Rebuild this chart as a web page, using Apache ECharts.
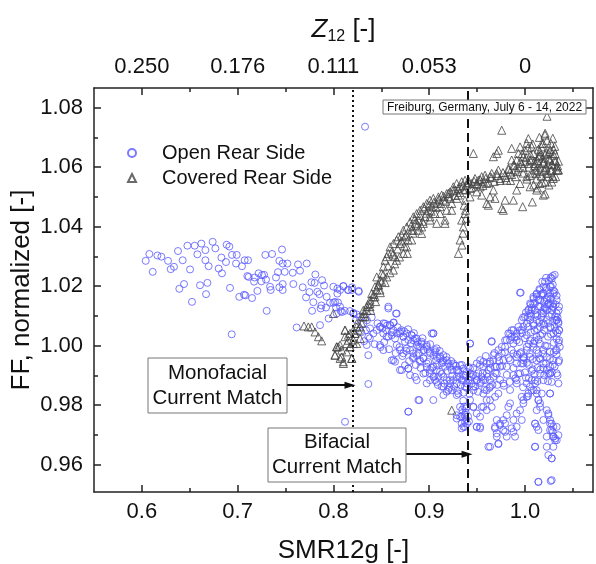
<!DOCTYPE html>
<html><head><meta charset="utf-8">
<script src="https://cdn.jsdelivr.net/npm/echarts@6/dist/echarts.min.js"></script>
<style>html,body{margin:0;padding:0;background:#fff}#c{width:596px;height:564px}</style>
</head><body><div id="c"></div>
<script>
const FONT = "'Liberation Sans', Arial, sans-serif";
const xTickValues = [0.6, 0.7, 0.8, 0.9, 1.0];
const xMinorTicks = [0.65, 0.75, 0.85, 0.95, 1.05];
const topTickLabels = ['0.250', '0.176', '0.111', '0.053', '0'];
const yTickValues = [0.96, 0.98, 1.00, 1.02, 1.04, 1.06, 1.08];
const yMinorTicks = [0.97, 0.99, 1.01, 1.03, 1.05, 1.07];
const monofacialMatchX = 0.825;
const bifacialMatchX = 0.94;
const monoArrow = [[0.7515, 0.9867], [0.8173, 0.9867]];
const biArrow = [[0.8758, 0.9635], [0.9395, 0.9635]];

const openRear = [
[0.604,1.0285],[0.6078,1.0308],[0.6113,1.0248],[0.6162,1.0303],[0.6203,1.0299],[0.6273,1.0285],[0.6301,1.0257],[0.6335,1.0265],[0.6377,1.0318],[0.6391,1.0191],[0.6426,1.0287],[0.644,1.0207],[0.6475,1.0336],[0.6503,1.0256],[0.6523,1.0147],[0.6551,1.0336],[0.6579,1.0307],[0.6607,1.0203],[0.6621,1.0343],[0.6663,1.0321],[0.667,1.0173],[0.6684,1.0211],[0.6697,1.0267],[0.6663,1.0287],[0.6739,1.0349],[0.6767,1.0327],[0.6802,1.0259],[0.683,1.0296],[0.6836,1.0243],[0.6885,1.0339],[0.6913,1.0333],[0.6878,1.0281],[0.692,1.0194],[0.6941,1.0305],[0.699,1.0305],[0.6983,1.0276],[0.7017,1.0164],[0.7045,1.0267],[0.7073,1.0287],[0.7066,1.0171],[0.7108,1.0287],[0.708,1.0169],[0.7101,1.0234],[0.7115,1.0231],[0.715,1.016],[0.7171,1.0215],[0.7178,1.0229],[0.7219,1.0243],[0.7206,1.0184],[0.7247,1.0216],[0.7254,1.0237],[0.7275,1.0238],[0.7289,1.0305],[0.7296,1.0222],[0.7303,1.0117],[0.7338,1.0198],[0.7359,1.0308],[0.7345,1.0187],[0.74,1.0229],[0.7435,1.0196],[0.7421,1.0247],[0.7463,1.0323],[0.7435,1.0285],[0.747,1.0276],[0.747,1.0207],[0.7491,1.0248],[0.747,1.0187],[0.7519,1.0276],[0.7575,1.0245],[0.7581,1.0207],[0.763,1.0273],[0.7651,1.0252],[0.7679,1.0196],[0.7721,1.0276],[0.7714,1.0162],[0.7749,1.018],[0.7777,1.0117],[0.777,1.0213],[0.7804,1.0211],[0.7811,1.0239],[0.7832,1.0181],[0.779,1.0146],[0.7853,1.0173],[0.7874,1.0135],[0.7881,1.022],[0.7902,1.0202],[0.7867,1.0125],[0.7923,1.0128],[0.7929,1.0164],[0.795,1.0091],[0.7964,1.0144],[0.7999,1.0144],[0.8027,1.0128],[0.8041,1.0192],[0.8048,1.0145],[0.8069,1.0187],[0.8076,1.0116],[0.8104,1.02],[0.8118,1.0117],[0.8152,1.0187],[0.8173,1.0116],[0.8194,1.0187],[0.8208,1.011],[0.8243,1.0105],[0.8264,1.0184],[0.7616,1.0061],[0.786,1.0069],[0.6938,1.0038],
[0.7999,1.0198],[0.8041,1.0175],[0.8103,1.02],[0.8156,1.0187],[0.8194,1.0196],[0.8264,1.0181],[0.8016,1.0147],[0.8069,1.0131],[0.8034,1.0108],[0.809,1.0113],[0.8208,1.0108],[0.8236,1.0086],[0.8278,1.0097],[0.8312,1.0075],[0.834,1.0052],[0.8364,1.003],[0.8382,1.0058],[0.8417,1.0041],[0.8452,1.0052],[0.8486,1.0063],[0.8521,1.0075],[0.8549,1.0052],[0.8573,1.003],[0.8591,1.0069],[0.8626,1.0052],[0.8643,1.0024],[0.866,1.0002],[0.8695,1.0041],[0.873,1.003],[0.8747,1.0013],[0.8782,1.0019],[0.8817,1.0035],[0.8852,1.0024],[0.8869,1.0002],[0.8904,0.9996],[0.8921,1.0013],[0.8939,0.9985],[0.8974,1.0002],[0.9008,0.9979],[0.9043,0.9968],[0.9071,0.9951],[0.9078,0.9991],[0.9113,0.9963],[0.9148,0.9951],[0.9165,0.9929],[0.92,0.994],[0.9235,0.9918],[0.9252,0.994],[0.9287,0.9895],[0.9304,0.9918],[0.9339,0.9884],[0.9357,0.9901],[0.9374,0.9862],[0.9409,0.9884],[0.9426,0.9907],[0.9444,0.9873],[0.9461,0.985],[0.9496,0.9884],[0.9513,0.9907],[0.9548,0.9895],[0.9565,0.9929],[0.9583,0.9884],[0.9618,0.9918],[0.9635,0.994],[0.967,0.9951],[0.9705,0.9929],[0.9722,0.9962],[0.9757,0.9974],[0.9792,0.9996],[0.9809,1.0019],[0.9844,1.0041],[0.9861,1.0052],[0.9879,1.0007],[0.9913,1.003],[0.9931,1.0063],[0.9966,1.0086],[1.0,1.0097],[1.0035,1.0119],[1.0053,1.0142],[1.0087,1.0164],[1.0122,1.0175],[1.0157,1.0187],[1.0192,1.0198],[1.0227,1.0153],[1.0262,1.0175],[1.0296,1.0131],[1.0331,1.0086],[1.0356,1.0052],[0.866,1.0108],[0.8573,1.0125],[0.8347,1.0002],[0.8364,0.9968],[0.8486,1.0002],[0.8521,0.9985],[0.8608,0.9951],[0.8695,0.9918],[0.8782,0.9923],[0.8887,0.9817],[0.8782,0.9778],[0.9043,1.0041],[0.9426,1.0007],[0.9652,1.0015],[0.9948,1.0178],[0.8364,0.9871],[0.8121,0.9744],
[0.8834,0.9962],[0.8904,0.9946],[0.8974,0.9929],[0.9008,0.9907],[0.9061,0.9884],[0.9096,0.9895],[0.913,0.9862],[0.9148,0.9834],[0.92,0.9851],[0.9322,0.9794],[0.9339,0.9761],[0.9357,0.9727],[0.9374,0.9744],[0.9287,0.9766],[0.9496,0.9727],[0.9531,0.9727],[0.9426,0.9817],[0.9461,0.9794],[0.9548,0.9794],[0.96,0.9817],[0.9652,0.9794],[0.9635,0.966],[0.9687,0.9722],[0.9705,0.9705],[0.9739,0.9738],[0.9774,0.975],[0.9792,0.971],[0.9809,0.9694],[0.9861,0.9722],[0.9879,0.975],[0.9913,0.9772],[0.9966,0.975],[0.9983,0.9806],[1.0018,0.9828],[1.0053,0.9862],[1.007,0.9884],[1.0105,0.9873],[1.0122,0.9839],[1.014,0.9817],[1.0157,0.9794],[1.0105,0.9738],[1.0105,0.966],[1.0192,0.975],[1.0227,0.9694],[1.0244,0.9772],[1.0262,0.9738],[1.0279,0.9716],[1.0296,0.9694],[1.0314,0.9682],[1.0331,0.9727],[1.0262,0.9839],[1.0244,0.9632],[1.0279,0.9621],[1.0296,0.966],[1.014,0.9542],[1.0279,0.9548],[1.0349,0.9873],[1.0331,0.9907],[1.0356,0.9951],[1.0363,0.9996],[1.0262,0.9907],[1.0192,0.994],[1.014,0.9974],[1.0087,1.0007],[1.0053,0.9962],[1.0018,0.9996],[0.9983,0.994],[0.9948,0.9907],[0.9913,0.9884],[0.9844,0.9851],[0.9774,0.9873],[0.9722,0.9839],[0.9635,0.9862],[0.96,0.985],[0.9565,0.9839],[0.9287,0.9834],[0.9217,0.9884],
[0.8486,1.0063],[0.8539,1.0074],[0.8591,1.0069],[0.8626,1.0077],[0.8653,1.0108],[0.8573,1.0131],[0.8521,1.0041],[0.8556,1.003],[0.8608,1.0035],[0.866,1.0041],[0.8695,1.0047],[0.873,1.003],[0.8765,1.0041],[0.8817,1.0035],[0.8834,1.0018],[0.8869,1.0024],[0.8886,0.9996],[0.8921,1.0007],[0.8939,0.9985],[0.8974,0.9996],[0.9008,0.9974],[0.9043,1.0041],[0.9061,0.9985],[0.9078,0.9962],[0.9113,0.9957],[0.913,0.994],[0.9148,0.9968],[0.9182,0.9951],[0.9217,0.9929],[0.9252,0.9934],[0.9287,0.9918],[0.9322,0.9934],[0.9357,0.9923],[0.9391,0.9912],[0.9426,0.9923],[0.9461,0.9901],[0.9496,0.994],[0.9531,0.9951],[0.9565,0.9946],[0.96,0.994],[0.9635,0.9946],[0.967,0.9968],[0.9687,0.9929],[0.9722,0.9985],[0.9757,0.9996],[0.9792,1.0018],[0.9826,1.0041],[0.9861,1.003],[0.9879,1.0052],[0.9913,1.0018],[0.9948,1.0052],[0.9983,1.0063],[1.0018,1.0074],[1.0053,1.0086],[1.007,1.0119],[1.0105,1.0142],[1.0157,1.0131],[1.0192,1.0108],[1.0227,1.0119],[1.0262,1.0136],[1.0296,1.0142],[1.0314,1.0086],[1.0331,1.0108],[1.0349,1.008],[1.0356,1.0052],[1.0356,1.0018],[1.0331,0.9985],[1.0296,0.9951],[1.0262,0.9929],[1.0227,0.9962],[1.0192,0.9985],[1.0157,1.0007],[1.0122,1.003],[1.0088,0.9996],[1.0053,1.0018],[1.0018,0.9985],[0.9983,0.9962],[0.9948,0.9974],[0.9913,0.994],[0.9879,0.9974],[0.9844,0.9951],[0.9809,0.9929],[0.9774,0.9951],[0.9739,0.9929],[0.9705,0.9906],[0.967,0.9895],[0.9635,0.9884],[0.96,0.9906],[0.9565,0.9884],[0.9531,0.9873],[0.9496,0.9884],[0.9461,0.9862],[0.9426,0.9884],[0.9391,0.9873],[0.9357,0.9884],[0.9322,0.9895],[0.9287,0.9873],[0.9252,0.9884],[0.9217,0.9873],[0.9182,0.9884],[0.9148,0.9895],[0.9113,0.9912],[0.9078,0.9918],[0.9043,0.9929],[0.9008,0.9918],[0.8974,0.994],[0.8939,0.9957],[0.8904,0.9951],[0.8869,0.9968],[0.8834,0.9974],[0.88,0.9985],[0.8765,0.999],[0.873,0.9974],[0.8695,0.9985],[0.8713,0.9918],[0.8747,0.9934],[0.8782,0.9923],[0.88,0.9901],[0.8852,0.9895],[0.8869,0.9884],[0.8939,0.9906],[0.8974,0.9873],[0.9008,0.9884],[0.9043,0.9895],[0.9078,0.9878],[0.9148,0.9862],[0.9182,0.9845],[0.9235,0.985],[0.9304,0.9839],[0.8897,0.9817],[0.9043,0.9817],[0.8782,0.9778],[0.9426,1.0007],[0.9652,1.0013],[0.9026,1.0041],[0.8626,0.9951],[0.8643,0.9946],
[0.9287,0.9755],[0.9322,0.9761],[0.9339,0.9738],[0.9339,0.9722],[0.9374,0.9727],[0.9374,0.9761],[0.9384,0.9789],[0.9461,0.9794],[0.9496,0.9772],[0.9531,0.9761],[0.9496,0.9727],[0.9531,0.9722],[0.9565,0.9794],[0.96,0.9783],[0.9635,0.9817],[0.9687,0.9828],[0.9705,0.975],[0.9687,0.9727],[0.9705,0.9694],[0.9722,0.9671],[0.9739,0.9733],[0.9774,0.9716],[0.9792,0.9738],[0.9809,0.9766],[0.9826,0.9794],[0.9844,0.9806],[0.9879,0.971],[0.9896,0.9694],[0.9913,0.9727],[0.9948,0.9783],[0.9966,0.9828],[0.9983,0.9817],[1.0018,0.9873],[1.0035,0.9839],[1.007,0.985],[1.0105,0.9884],[1.0122,0.985],[1.014,0.9817],[1.0122,0.9783],[1.0105,0.9738],[1.0122,0.9727],[1.014,0.9716],[1.0157,0.9806],[1.0175,0.9839],[1.0192,0.9884],[1.0227,0.9783],[1.0244,0.9766],[1.0262,0.975],[1.0279,0.9738],[1.0262,0.9716],[1.029,0.971],[1.0296,0.9694],[1.0314,0.9688],[1.0331,0.9682],[1.0349,0.9699],[1.0296,0.9727],[1.0262,0.9839],[1.0279,0.9878],[1.0227,0.966],[1.0279,0.9621],[1.0105,0.966],[1.014,0.9542],[1.0268,0.9545],[0.9618,0.966],[0.9722,0.9669],[0.9879,0.9901],[0.9913,0.9873],[1.0157,0.9906],[1.0244,0.9906],[0.9983,0.9951],
[1.0289,1.0234],[1.0268,1.0229],[1.0209,1.0215],[0.9955,1.0178],[1.0087,1.0142],[1.0122,1.0164],[1.0157,1.0153],[1.0192,1.0175],[1.0227,1.0187],[1.0262,1.0198],[1.0296,1.0175],[1.0331,1.0153],[1.0356,1.0131],[1.0053,1.0108],[1.0105,1.0119],[1.014,1.0131],[1.0175,1.0108],[1.0209,1.0131],[1.0244,1.0142],[1.0279,1.0119],[1.0314,1.0097],[1.0349,1.0075],[1.0035,1.0063],[1.0087,1.0075],[1.0122,1.0086],[1.0157,1.0063],[1.0192,1.0075],[1.0227,1.0086],[1.0262,1.0063],[1.0296,1.0041],[1.0331,1.0086],[0.9913,1.0041],[0.9966,1.0052],[1.0018,1.0035],[0.9844,1.0018],
[1.01,1.005],[1.014,1.002],[1.018,1.004],[1.021,1.0],[1.024,1.003],[1.027,1.006],[1.03,1.001],[1.033,0.997],[1.012,0.995],[1.016,0.992],[1.02,0.99],[1.024,0.988],[1.028,0.991],[1.031,0.993],[1.034,0.99],[1.008,0.992],[1.004,0.989],[1.0,0.991],[0.996,0.994],[0.992,0.997],[1.006,1.01],[1.013,1.01],[1.019,1.012],[1.025,1.01],[1.029,1.013],[1.017,1.017],[1.023,1.016],[1.027,1.02],[1.031,1.018],[1.015,1.008],[1.02,1.007],[1.026,0.998],[1.032,1.005],[1.035,1.001],[1.022,0.994],[1.013,0.988],[1.009,0.985],[1.003,0.983],[0.998,0.986],[0.99,0.989],
[0.833,1.0736],
[0.829,1.0045],[0.832,1.0015],[0.835,1.0085],[0.838,1.0025],[0.84,1.0095],[0.843,1.0005],[0.846,1.0075],[0.849,0.9995],[0.851,1.0058],[0.853,1.0012],[0.856,1.0068],[0.858,0.9988],[0.861,1.0045],[0.863,1.0078],[0.865,0.9975],
[0.867,1.0062],[0.869,0.9995],[0.871,1.0052],[0.872,0.9965],[0.874,1.0048],[0.876,0.9982],[0.878,1.0055],[0.879,0.9948],[0.881,1.0008],[0.883,0.9958],[0.884,1.0042],[0.886,0.9935],[0.888,1.0012],[0.889,0.9975],[0.891,0.9925],[0.893,1.0025],[0.894,0.9958],[0.896,0.9908],[0.898,0.9988],[0.899,0.9945],
[0.901,1.0005],[0.903,0.9925],[0.905,0.9895],[0.906,0.9978],[0.908,0.9935],[0.909,0.9868],[0.911,0.9982],[0.913,0.9905],[0.914,0.9945],[0.916,0.9872],[0.918,0.9962],[0.919,0.9915],[0.921,0.9858],[0.923,0.9948],[0.924,0.9898],[0.926,0.9862],[0.928,0.9932],[0.929,0.9848],[0.931,0.9908],[0.933,0.9868],[0.934,0.9935],[0.936,0.9842],[0.938,0.9898],[0.939,0.9858],[0.941,0.9928],[0.942,0.9838],[0.944,0.9895],
[0.9355,0.9815],[0.9365,0.9795],[0.938,0.9775],[0.9385,0.9752],[0.9395,0.9738],[0.9345,0.9785],[0.9372,0.9768],[0.9392,0.9795],[0.9405,0.9762],[0.9415,0.9745],
[0.946,0.9925],[0.948,0.9862],[0.949,0.9898],[0.951,0.9845],[0.953,0.9935],[0.954,0.9878],[0.956,0.9908],[0.958,0.9852],[0.959,0.9965],[0.961,0.9895],[0.963,0.9858],[0.964,0.9925],[0.966,0.9868],[0.968,0.9975],[0.969,0.9908],[0.971,0.9868],[0.973,0.9948],[0.974,0.9885],[0.976,0.9932],[0.978,0.9865],[0.979,0.9978],[0.981,0.9902],[0.983,0.9958],[0.984,0.9878],
[0.986,0.9985],[0.988,0.9925],[0.989,1.0028],[0.991,0.9962],[0.993,0.9905],[0.994,1.0012],[0.996,0.9978],[0.997,1.0042],[0.999,0.9958],[1.0,1.0025],[1.002,0.9942],[1.003,1.0095],[1.004,1.0005],[1.005,0.9972],[1.006,1.0045],[1.007,1.0128],[1.008,0.9955],[1.009,1.0068],[1.01,1.0015],[1.011,1.0105],[1.012,0.9985],[1.013,1.0055],[1.014,1.0155],[1.015,0.9958],[1.016,1.0035],[1.017,1.0095],[1.018,1.0175],[1.019,0.9972],[1.02,1.0052],[1.021,1.0125],[1.022,1.0195],[1.023,0.9998],[1.024,1.0075],[1.025,1.0165],[1.026,0.9955],[1.027,1.0038],[1.028,1.0105],[1.029,1.0205],[1.03,0.9978],[1.031,1.0062],[1.032,1.0138],[1.033,1.0022],[1.034,1.0095],[1.035,0.9945],[1.028,1.0225],[1.025,1.0218],[1.031,1.0238],[1.022,1.0228],[1.018,1.0215],[1.015,1.019],[1.012,1.0172],[1.009,1.0158],[1.006,1.0138],[1.004,1.0122],[1.001,1.0112],[0.998,1.0095],[1.02,1.0148],[1.024,1.0138],[1.027,1.0158],[1.03,1.0185],[1.033,1.0168],[1.035,1.0118],[1.034,1.0042],[1.032,0.9985],[1.029,0.9935],[1.026,0.9905],[1.023,0.9918],[1.019,0.9925],[1.016,0.9955],[1.013,0.9925],[1.01,0.9905],[1.007,0.9915],[1.004,0.9935],[1.001,0.9892]
];

const coveredRear = [
[0.7693,1.0066],[0.7738,1.0063],[0.7773,1.0063],[0.7808,1.0046],[0.7843,1.003],[0.7877,1.0016],[0.7999,1.0108],[0.8034,0.9996],[0.8069,1.0002],[0.8017,0.9968],[0.8087,0.9962],[0.8104,0.994],[0.8138,0.9979],[0.8191,0.9957],[0.8173,0.9996],[0.8208,1.0007],[0.8225,1.0041],[0.8243,1.0063],[0.8121,1.003],[0.8156,1.0018],
[0.8016,0.9968],[0.8051,0.9996],[0.8086,0.9985],[0.8103,0.9946],[0.8138,1.0007],[0.8173,0.9996],[0.8208,1.0019],[0.8225,1.0041],[0.826,1.0052],[0.8295,1.0075],[0.8312,1.0097],[0.8347,1.0119],[0.8382,1.0142],[0.8417,1.0164],[0.8452,1.0187],[0.8469,1.0203],[0.8504,1.0215],[0.8034,0.9996],[0.8191,0.9957],[0.8069,0.9957],[0.8121,1.0052],[0.8156,1.0035],[0.8243,1.0007],[0.8278,1.0024],
[0.8121,1.0052],[0.8173,1.0041],[0.8243,1.0074],[0.8295,1.0097],[0.8312,1.0119],[0.8347,1.0131],[0.8382,1.0153],[0.8399,1.0175],[0.8434,1.0198],[0.8452,1.0231],[0.8486,1.022],[0.8504,1.0243],[0.8521,1.0265],[0.8539,1.0287],[0.8556,1.0299],[0.8573,1.031],[0.8591,1.0332],[0.8608,1.0315],[0.8626,1.0343],[0.8643,1.0299],[0.866,1.0355],[0.8678,1.0366],[0.8695,1.0343],[0.8713,1.0371],[0.873,1.0388],[0.8747,1.0366],[0.8765,1.0399],[0.8772,1.031],[0.88,1.0416],[0.8817,1.0388],[0.8834,1.0433],[0.8852,1.0411],[0.8869,1.0444],[0.8887,1.0422],[0.8904,1.0455],[0.8921,1.0377],[0.8939,1.0467],[0.8956,1.0433],[0.8974,1.0478],[0.8991,1.0455],[0.9008,1.0489],[0.9026,1.0467],[0.9043,1.0495],[0.9061,1.0444],[0.9078,1.0478],[0.9096,1.05],[0.9113,1.0467],[0.913,1.0506],[0.9148,1.0489],[0.9165,1.0411],[0.9182,1.0511],[0.92,1.05],[0.9217,1.0517],[0.9235,1.0478],[0.9252,1.0534],[0.927,1.0523],[0.9287,1.0545],[0.9304,1.0506],[0.9322,1.0534],[0.9339,1.0551],[0.9357,1.0523],[0.9374,1.0556],[0.9339,1.0422],[0.9357,1.0399],[0.9374,1.0444],[0.9322,1.0355],[0.9304,1.031],[0.9391,1.054],[0.9409,1.0556],[0.9426,1.0528],[0.9444,1.0545],[0.9461,1.0646],[0.9478,1.0562],[0.9496,1.0545],[0.9513,1.0556],[0.9531,1.0534],[0.9548,1.0568],[0.9565,1.0551],[0.9583,1.0573],[0.96,1.0545],[0.9618,1.0472],[0.9635,1.0568],[0.9652,1.0579],[0.967,1.0523],[0.9687,1.0495],[0.9705,1.0579],[0.9722,1.059],[0.9739,1.0562],[0.9757,1.0724],[0.9757,1.0461],[0.9774,1.0455],[0.9792,1.0573],[0.9809,1.0556],[0.9827,1.0596],[0.9844,1.0584],[0.9861,1.0624],[0.9861,1.0663],[0.9879,1.0607],[0.9896,1.059],[0.9913,1.0624],[0.9931,1.0646],[0.9948,1.0668],[0.9966,1.0612],[0.9976,1.0467],[0.9983,1.0635],[1.0,1.0657],[1.0018,1.068],[1.0035,1.0696],[1.0053,1.0624],[1.007,1.0668],[1.0077,1.0483],[1.0087,1.0646],[1.0105,1.0612],[1.0122,1.059],[1.014,1.0635],[1.0157,1.0652],[1.0175,1.068],[1.0192,1.0612],[1.0209,1.0708],[1.0227,1.0579],[1.0244,1.0646],[1.0262,1.0624],[1.0279,1.059],[1.0296,1.0562],[1.0314,1.0646],[1.0331,1.0601],[1.0349,1.059],[1.0192,1.0506],[1.0122,1.0523],[1.0157,1.0545],[1.0053,1.0534],[1.0018,1.0568],[0.9948,1.0545],[0.9913,1.0523],[0.9879,1.0489],[0.9792,1.0489],[0.9705,1.0646],[0.967,1.0635],[0.9722,1.0657],[0.96,1.0478],[0.9635,1.05],[0.9548,1.0506],[0.9496,1.0517],[0.9426,1.05],[0.9374,1.0489],[0.9287,1.0495],[0.9235,1.0455],[0.9165,1.0422],[0.9078,1.0411],[0.9008,1.0433],[0.8939,1.0411],[0.8887,1.0388],[0.8817,1.0355],[0.8765,1.0332],[0.873,1.031],[0.866,1.0287],[0.8626,1.0254],[0.8556,1.0231],[0.8486,1.0187],[0.8434,1.0164],[0.8382,1.0131],[0.833,1.0097],[0.8278,1.0063],[0.8208,1.0052],[0.8834,1.0388],[0.8921,1.0399],[0.9008,1.0422],[0.9113,1.0444],[0.9182,1.0455],
[1.008,1.058],[1.012,1.056],[1.016,1.06],[1.02,1.062],[1.024,1.058],[1.028,1.061],[1.03,1.064],[1.026,1.066],[1.022,1.065],[1.018,1.063],[1.014,1.066],[1.01,1.062],[1.006,1.064],[1.017,1.057],[1.021,1.055],[1.025,1.054],[1.029,1.057],[1.032,1.062],[1.019,1.068],[1.023,1.069],[1.027,1.068],[1.013,1.053],[1.009,1.054],[1.004,1.06],[1.0,1.062],[1.002,1.056],[0.998,1.058],[1.015,1.07],[1.031,1.067],[1.033,1.059],[1.02,1.059],[1.024,1.061],[1.016,1.064],[1.028,1.055],[1.011,1.059],
[1.023,1.0771],[1.021,1.0714],[1.029,1.0697],[1.0345,1.059],[1.021,1.051],[1.035,1.062],[0.9235,0.9783],
[0.832,1.0108],[0.836,1.0138],[0.839,1.0118],[0.842,1.0172],[0.844,1.0148],[0.847,1.0205],[0.849,1.0178],[0.852,1.0238],[0.854,1.0212],[0.857,1.0268],[0.859,1.0245],[0.862,1.0305],[0.864,1.0275],[0.867,1.0325],[0.869,1.0298],[0.871,1.0352],[0.874,1.0335],[0.876,1.0372],[0.878,1.0355],[0.881,1.0402],[0.883,1.0378],[0.885,1.0425],[0.888,1.0405],[0.89,1.0438],[0.893,1.0418],[0.895,1.0462],[0.897,1.0445],[0.9,1.0472],[0.902,1.0452],[0.905,1.0482],[0.907,1.0465],[0.91,1.0492],[0.912,1.0478],[0.915,1.0502],[0.917,1.0485],[0.92,1.0512],[0.922,1.0495],[0.925,1.0522],[0.927,1.0505],[0.93,1.0528],[0.932,1.0515],[0.935,1.0538],[0.938,1.0525],[0.941,1.0548],[0.944,1.0532],[0.947,1.0552],[0.95,1.0542],[0.953,1.0558],[0.956,1.0538],[0.959,1.0562],[0.962,1.0548],[0.965,1.0565],[0.968,1.0552],[0.971,1.0572],[0.974,1.0555],[0.977,1.0582],[0.98,1.0565],[0.983,1.0592],[0.986,1.0575],[0.989,1.0605],[0.992,1.0585],[0.995,1.0618],[0.998,1.0598],[1.001,1.0632],[1.004,1.0612],[1.007,1.0625],[1.01,1.0605],[1.013,1.0622],[1.016,1.0585],[1.019,1.0615],[1.022,1.0598],[1.025,1.0628],[1.028,1.0608],[1.031,1.0622],[1.034,1.0605],[1.005,1.0572],[1.012,1.0578],[1.018,1.0548],[1.023,1.0568],[1.027,1.0588],[1.032,1.0568],[1.015,1.0638],[1.021,1.0642],[1.026,1.0652],[1.03,1.0658],[1.017,1.0668],[1.008,1.0678],[1.003,1.0665],[0.997,1.0645],[0.993,1.0598],[0.99,1.0568],[0.985,1.0555],
[0.9365,1.0472],[0.9378,1.0455],[0.9385,1.0428],[0.9352,1.0378],[0.9342,1.0338]
];

const chart = echarts.init(document.getElementById('c'), null, {renderer: 'canvas'});
const X_MIN = 0.55, X_MAX = 1.071, Y_MIN = 0.9508, Y_MAX = 1.0866;
const axisColor = '#222';
function xAxisBase(pos) {
  return {type: 'value', position: pos, min: X_MIN, max: X_MAX, gridIndex: 0,
    axisLine: {show: true, onZero: false, lineStyle: {color: axisColor, width: 1.5}},
    splitLine: {show: false}};
}
function yAxisBase(pos) {
  return {type: 'value', position: pos, min: Y_MIN, max: Y_MAX, gridIndex: 0,
    axisLine: {show: true, onZero: false, lineStyle: {color: axisColor, width: 1.5}},
    splitLine: {show: false}};
}
const labelStyle = {fontSize: 22, color: '#111', fontFamily: FONT};

const option = {
  animation: false,
  backgroundColor: '#fff',
  grid: {left: 94, top: 88, width: 499, height: 404, containLabel: false, outerBoundsMode: 'none'},
  xAxis: [
    Object.assign(xAxisBase('bottom'), {
      axisTick: {show: true, inside: true, length: 7, customValues: xTickValues, lineStyle: {color: axisColor, width: 1.5}},
      axisLabel: Object.assign({show: true, customValues: xTickValues, margin: 9, formatter: v => v.toFixed(1)}, labelStyle),
      name: 'SMR12g [-]', nameLocation: 'middle', nameGap: 46, nameMoveOverlap: false,
      nameTextStyle: {fontSize: 26, color: '#111', fontFamily: FONT}
    }),
    Object.assign(xAxisBase('top'), {
      axisTick: {show: true, inside: true, length: 7, customValues: xTickValues, lineStyle: {color: axisColor, width: 1.5}},
      axisLabel: Object.assign({show: true, customValues: xTickValues, margin: 10,
        formatter: v => { const i = xTickValues.findIndex(t => Math.abs(t - v) < 1e-6); return i >= 0 ? topTickLabels[i] : ''; }}, labelStyle),
      name: '{i|Z}{s|12}{n| [-]}', nameLocation: 'middle', nameGap: 43, nameMoveOverlap: false,
      nameTextStyle: {fontFamily: FONT, color: '#111', rich: {
        i: {fontSize: 26, fontStyle: 'italic', fontFamily: FONT, color: '#111', lineHeight: 30, verticalAlign: 'middle'},
        s: {fontSize: 16, fontFamily: FONT, color: '#111', lineHeight: 16, verticalAlign: 'bottom'},
        n: {fontSize: 26, fontFamily: FONT, color: '#111', lineHeight: 30, verticalAlign: 'middle'}
      }}
    }),
    Object.assign(xAxisBase('bottom'), {
      axisLine: {show: false},
      axisTick: {show: true, inside: true, length: 4, customValues: xMinorTicks, lineStyle: {color: axisColor, width: 1.5}},
      axisLabel: {show: false}
    }),
    Object.assign(xAxisBase('top'), {
      axisLine: {show: false},
      axisTick: {show: true, inside: true, length: 4, customValues: xMinorTicks, lineStyle: {color: axisColor, width: 1.5}},
      axisLabel: {show: false}
    })
  ],
  yAxis: [
    Object.assign(yAxisBase('left'), {
      axisTick: {show: true, inside: true, length: 7, customValues: yTickValues, lineStyle: {color: axisColor, width: 1.5}},
      axisLabel: Object.assign({show: true, customValues: yTickValues, margin: 11, formatter: v => v.toFixed(2)}, labelStyle),
      name: 'FF, normalized [-]', nameLocation: 'middle', nameGap: 59, nameRotate: 90, nameMoveOverlap: false,
      nameTextStyle: {fontSize: 26, color: '#111', fontFamily: FONT}
    }),
    Object.assign(yAxisBase('right'), {
      axisTick: {show: true, inside: true, length: 7, customValues: yTickValues, lineStyle: {color: axisColor, width: 1.5}},
      axisLabel: {show: false}
    }),
    Object.assign(yAxisBase('left'), {
      axisLine: {show: false},
      axisTick: {show: true, inside: true, length: 4, customValues: yMinorTicks, lineStyle: {color: axisColor, width: 1.5}},
      axisLabel: {show: false}
    }),
    Object.assign(yAxisBase('right'), {
      axisLine: {show: false},
      axisTick: {show: true, inside: true, length: 4, customValues: yMinorTicks, lineStyle: {color: axisColor, width: 1.5}},
      axisLabel: {show: false}
    })
  ],
  legend: {
    orient: 'vertical', left: 122, top: 138, itemWidth: 8, itemHeight: 8, itemGap: 5,
    textStyle: {fontSize: 20, color: '#111', fontFamily: FONT, padding: [0, 0, 0, 21]},
    data: ['Open Rear Side', 'Covered Rear Side']
  },
  series: [
    {
      name: 'Open Rear Side', type: 'scatter', xAxisIndex: 0, yAxisIndex: 0,
      symbol: 'circle', symbolSize: 7,
      itemStyle: {color: 'rgba(0,0,0,0)', borderColor: '#5a5aff', borderWidth: 1},
      data: openRear,
      markLine: {
        silent: true, symbol: ['none', 'none'], label: {show: false},
        data: [
          {xAxis: monofacialMatchX, lineStyle: {type: [2, 3], color: '#111', width: 2}},
          {xAxis: bifacialMatchX, lineStyle: {type: [9, 5], color: '#111', width: 2}}
        ]
      }
    },
    {
      name: 'Covered Rear Side', type: 'scatter', xAxisIndex: 0, yAxisIndex: 0,
      symbol: 'triangle', symbolSize: 8,
      itemStyle: {color: 'rgba(0,0,0,0)', borderColor: '#444', borderWidth: 1},
      data: coveredRear,
      markLine: {
        silent: true, symbol: ['none', 'triangle'], symbolSize: [7, 11], label: {show: false},
        lineStyle: {type: 'solid', color: '#111', width: 2},
        data: [
          [{coord: monoArrow[0]}, {coord: monoArrow[1]}],
          [{coord: biArrow[0]}, {coord: biArrow[1]}]
        ]
      }
    }
  ],
  graphic: [
    {type: 'rect', z: 100, shape: {x: 148, y: 358, width: 139, height: 55}, style: {fill: '#fff', stroke: '#777', lineWidth: 1}},
    {type: 'text', z: 101, x: 217.5, y: 385.5, style: {text: 'Monofacial\nCurrent Match', fontSize: 20.5, fontFamily: FONT, fill: '#111', align: 'center', verticalAlign: 'middle', lineHeight: 25}},
    {type: 'rect', z: 100, shape: {x: 268, y: 428, width: 138, height: 54}, style: {fill: '#fff', stroke: '#777', lineWidth: 1}},
    {type: 'text', z: 101, x: 337, y: 455, style: {text: 'Bifacial\nCurrent Match', fontSize: 20.5, fontFamily: FONT, fill: '#111', align: 'center', verticalAlign: 'middle', lineHeight: 25}},
    {type: 'rect', z: 100, shape: {x: 383, y: 100, width: 203, height: 14}, style: {fill: '#fff', stroke: '#777', lineWidth: 1}},
    {type: 'text', z: 101, x: 484.5, y: 107.5, style: {text: 'Freiburg, Germany, July 6 - 14, 2022', fontSize: 12, fontFamily: FONT, fill: '#111', align: 'center', verticalAlign: 'middle'}}
  ]
};
chart.setOption(option);
</script>
</body></html>
